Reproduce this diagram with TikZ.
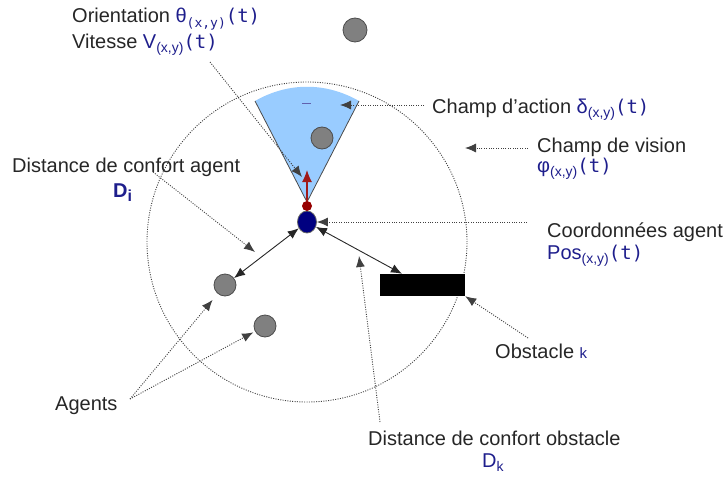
\documentclass[tikz,border=0pt]{standalone}
\usepackage{fontspec}
\setmainfont{Liberation Sans}
\newfontfamily\monofont{DejaVu Sans Mono}
\usepackage{tikz}
\usetikzlibrary{shapes.geometric, arrows.meta}
\definecolor{textblue}{RGB}{30,30,140}
\definecolor{agentnavy}{RGB}{0,0,128}
\definecolor{headred}{RGB}{150,0,0}
\definecolor{conefill}{RGB}{153,204,255}
\definecolor{othergray}{RGB}{128,128,128}
\newcommand{\lowidx}[1]{\raisebox{-0.45ex}{\fontsize{14}{14}\selectfont #1}}
\newcommand{\tparen}{{\monofont\fontsize{19}{19}\selectfont (t)}}
\tikzstyle{annot} = [font=\fontsize{20}{24}\selectfont, anchor=base west, inner sep=0pt, text=black!85]
\tikzstyle{agentgray} = [circle, minimum size=22pt, inner sep=0pt, fill=othergray, draw=black!70, thick]
\tikzstyle{agentblue} = [ellipse, minimum width=19pt, minimum height=22pt, inner sep=0pt, fill=agentnavy, draw=black!60, thick]
\tikzstyle{headdot} = [circle, minimum size=10pt, inner sep=0pt, fill=headred]
\tikzstyle{obstaclebox} = [rectangle, minimum width=85pt, minimum height=22pt, inner sep=0pt, fill=black]
\tikzstyle{pointer} = [line width=0.9pt, black!75, dash pattern=on 1pt off 1.4pt, -{Latex[length=11pt,width=9pt]}]
\tikzstyle{bidiarrow} = [line width=0.9pt, black!85, {Latex[length=11pt,width=9pt]}-{Latex[length=11pt,width=9pt]}]
\tikzstyle{redarrow} = [line width=1.2pt, headred!90, -{Latex[length=12pt,width=10pt]}]

\begin{document}
\begin{tikzpicture}[x=1pt, y=-1pt]
\useasboundingbox (0,0) rectangle (726,479);

% Vision circle
\draw[line width=0.9pt, black!75, dash pattern=on 1pt off 1.4pt] (307,242) circle [radius=160pt];

% Action cone
\coordinate (apex) at (307,202);
\coordinate (coneleft) at (255,101);
\coordinate (coneright) at (359,101);
\fill[conefill] (apex) -- (coneleft) .. controls (288,82) and (326,82) .. (coneright) -- cycle;
\draw[black!70, line width=0.8pt] (coneleft) -- (apex) -- (coneright);
\draw[textblue!70, line width=1pt] (302,103) -- (311,103);

% Agents
\node (agent) [agentblue] at (307,222) {};
\node (head) [headdot] at (307,206) {};
\coordinate (heading) at (307,170);
\node (other1) [agentgray] at (225,285) {};
\node (other2) [agentgray] at (265,326) {};
\node (other3) [agentgray] at (322,138) {};
\node (other4) [agentgray, minimum size=24pt] at (355,30) {};

% Obstacle
\node (obstacle) [obstaclebox] at (422.5,285) {};

% Texts
\node (orient) [annot] at (72,23) {Orientation {\color{textblue}θ\lowidx{\monofont\fontsize{13}{13}\selectfont (x,y)}\tparen}};
\node (vitesse) [annot] at (72,48) {Vitesse {\color{textblue}V\lowidx{(x,y)}\tparen}};
\node (action) [annot] at (432,113) {Champ d'action {\color{textblue}δ\lowidx{(x,y)}\tparen}};
\node (vision) [annot] at (537,152) {Champ de vision};
\node (phi) [annot] at (537,172) {\color{textblue}φ\lowidx{(x,y)}\tparen};
\node (coord) [annot] at (547,237) {Coordonnées agent};
\node (pos) [annot] at (547,259) {\color{textblue}Pos\lowidx{(x,y)}\tparen};
\node (distagent) [annot] at (12,172) {Distance de confort agent};
\node (di) [annot] at (113,197) {\color{textblue}\bfseries D\lowidx{\bfseries\fontsize{16}{16}\selectfont i}};
\node (obstname) [annot] at (495,358) {Obstacle {\color{textblue}\fontsize{15}{15}\selectfont k}};
\node (agents) [annot] at (55,410) {Agents};
\node (distobst) [annot] at (368,445) {Distance de confort obstacle};
\node (dk) [annot] at (482,467) {\color{textblue}D\lowidx{k}};

% Pointer ends
\coordinate (vitfrom) at (210,62);
\coordinate (vitto) at (302,177);
\coordinate (actionfrom) at (424,105);
\coordinate (actionto) at (340,105);
\coordinate (visionfrom) at (528,148);
\coordinate (visionto) at (465,148);
\coordinate (coordfrom) at (527,222);
\coordinate (distagentfrom) at (153,172);
\coordinate (distagentto) at (255,252);
\coordinate (obstfrom) at (528,338);
\coordinate (agentsfrom) at (130,399);
\coordinate (distobstfrom) at (380,422);
\coordinate (distobstto) at (359,256);

% Arrows
\draw [redarrow] (head) -- (heading);
\draw [bidiarrow] (agent) -- (other1);
\draw [bidiarrow] (agent) -- (obstacle);

\draw [pointer] (vitfrom) -- (vitto);
\draw [pointer] (actionfrom) -- (actionto);
\draw [pointer] (visionfrom) -- (visionto);
\draw [pointer] (coordfrom) -- (agent);
\draw [pointer] (distagentfrom) -- (distagentto);
\draw [pointer] (obstfrom) -- (obstacle.south east);
\draw [pointer, shorten >=8pt] (agentsfrom) -- (other1);
\draw [pointer, shorten >=2pt] (agentsfrom) -- (other2);
\draw [pointer] (distobstfrom) -- (distobstto);

\end{tikzpicture}
\end{document}
